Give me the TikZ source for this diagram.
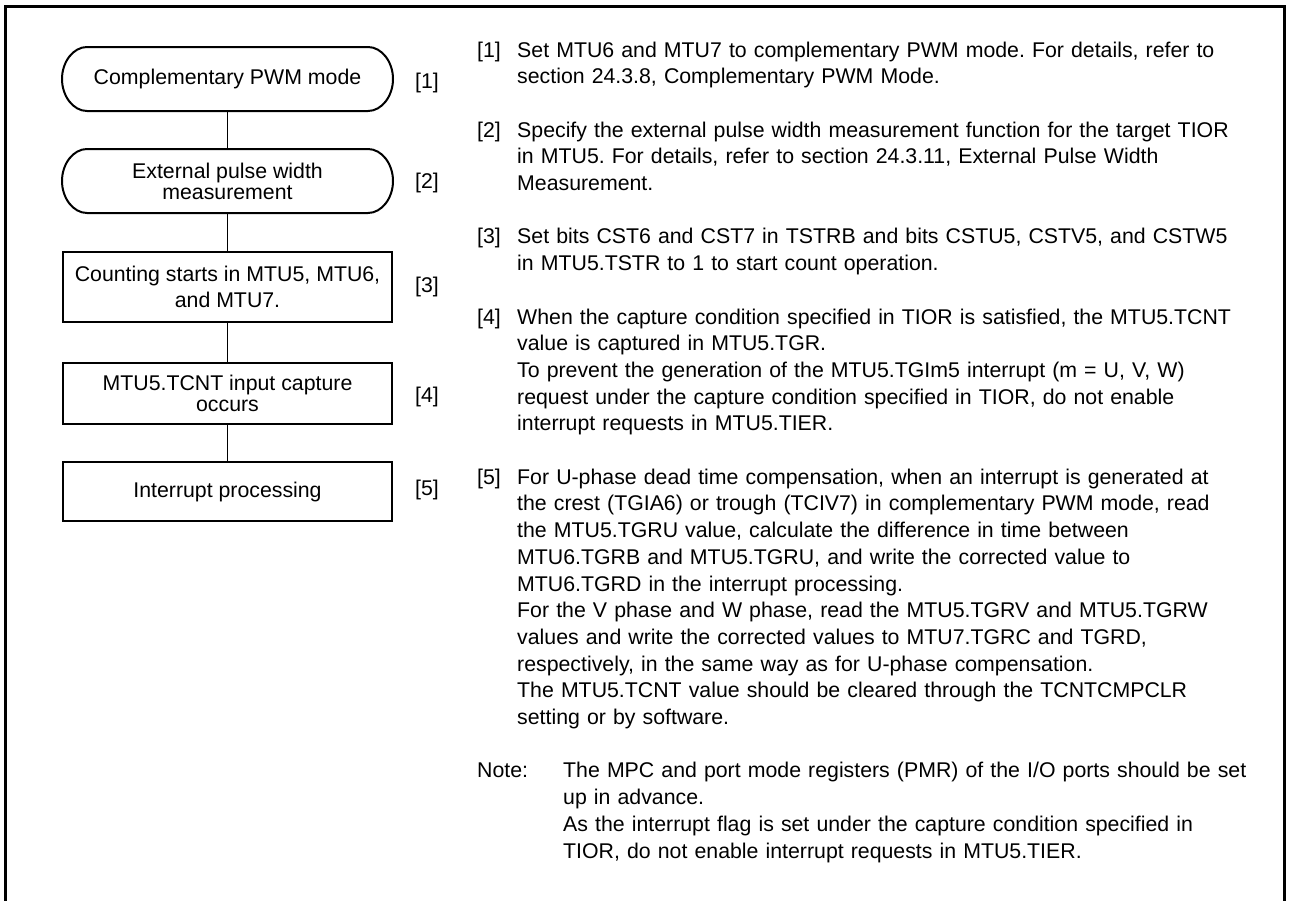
\documentclass[tikz,border=0pt]{standalone}
\usepackage{fontspec}
\setmainfont{Liberation Sans}
\usetikzlibrary{calc}
\frenchspacing
\newcommand\stadiumoutline[1]{%
  \draw[boxline] ($(#1.north west)+(25pt,0)$) -- ($(#1.north east)+(-25pt,0)$)
    .. controls ($(#1.north east)+(-11.2pt,0)$) and ($(#1.east)+(0,17.1pt)$) .. (#1.east)
    .. controls ($(#1.east)+(0,-17.1pt)$) and ($(#1.south east)+(-11.2pt,0)$) .. ($(#1.south east)+(-25pt,0)$)
    -- ($(#1.south west)+(25pt,0)$)
    .. controls ($(#1.south west)+(11.2pt,0)$) and ($(#1.west)+(0,-17.1pt)$) .. (#1.west)
    .. controls ($(#1.west)+(0,17.1pt)$) and ($(#1.north west)+(11.2pt,0)$) .. ($(#1.north west)+(25pt,0)$)
    -- cycle;}
\begin{document}
\begin{tikzpicture}[x=1pt,y=1pt,
  frame/.style={line width=3pt},
  boxline/.style={line width=2pt, line join=round},
  conn/.style={line width=1.3pt},
  fbox/.style={draw, line width=2pt, minimum width=329pt, inner sep=0pt, align=center, font=\fontsize{21.3}{21}\selectfont},
  fterm/.style={fbox, draw=none},
  flabel/.style={anchor=west, inner sep=0pt, font=\fontsize{21.3}{24}\selectfont},
  num/.style={anchor=base west, inner sep=0pt, font=\fontsize{21.3}{26.7}\selectfont},
  para/.style={anchor=base west, inner sep=0pt, text width=760pt, align=left, font=\frenchspacing\fontsize{21.3}{26.7}\selectfont}
]
\useasboundingbox (0,0) rectangle (1289,-900);
\fill[white] (0,0) rectangle (1289,-900);
% frame
\draw[frame] (5,-905) -- (5,-6) -- (1284,-6) -- (1284,-905);

% flowchart
\node[fterm, minimum height=62pt] (s1) at (227.5,-79) {Complementary PWM mode};
\node[fterm, minimum height=62pt] (s2) at (227.5,-181) {External pulse width\\measurement};
\node[fbox, minimum height=70pt, font=\fontsize{21.3}{26}\selectfont] (b3) at (227.5,-287) {Counting starts in MTU5, MTU6,\\and MTU7.};
\node[fbox, minimum height=61pt] (b4) at (227.5,-393.5) {MTU5.TCNT input capture\\occurs};
\node[fbox, minimum height=59pt] (b5) at (227.5,-491.5) {Interrupt processing};
\stadiumoutline{s1}
\stadiumoutline{s2}
\draw[conn] (s1.south) -- (s2.north);
\draw[conn] (s2.south) -- (b3.north);
\draw[conn] (b3.south) -- (b4.north);
\draw[conn] (b4.south) -- (b5.north);

\node[flabel] (l1) at (415,-83) {[1]};
\node[flabel] (l2) at (415,-183) {[2]};
\node[flabel] (l3) at (415,-287) {[3]};
\node[flabel] (l4) at (415,-397) {[4]};
\node[flabel] (l5) at (415,-490) {[5]};

% right-hand notes (baseline of line k = 57 + 26.7 k)
\node[num] (n1) at (477,-57) {[1]};
\node[para] (p1) at (517,-57) {Set MTU6 and MTU7 to complementary PWM mode. For details, refer to\\section 24.3.8, Complementary PWM Mode.};
\node[num] (n2) at (477,-137.1) {[2]};
\node[para] (p2) at (517,-137.1) {Specify the external pulse width measurement function for the target TIOR\\in MTU5. For details, refer to section 24.3.11, External Pulse Width\\Measurement.};
\node[num] (n3) at (477,-243.9) {[3]};
\node[para] (p3) at (517,-243.9) {Set bits CST6 and CST7 in TSTRB and bits CSTU5, CSTV5, and CSTW5\\in MTU5.TSTR to 1 to start count operation.};
\node[num] (n4) at (477,-324) {[4]};
\node[para] (p4) at (517,-324) {When the capture condition specified in TIOR is satisfied, the MTU5.TCNT\\value is captured in MTU5.TGR.\\To prevent the generation of the MTU5.TGIm5 interrupt (m = U, V, W)\\request under the capture condition specified in TIOR, do not enable\\interrupt requests in MTU5.TIER.};
\node[num] (n5) at (477,-484.2) {[5]};
\node[para] (p5) at (517,-484.2) {For U-phase dead time compensation, when an interrupt is generated at\\the crest (TGIA6) or trough (TCIV7) in complementary PWM mode, read\\the MTU5.TGRU value, calculate the difference in time between\\MTU6.TGRB and MTU5.TGRU, and write the corrected value to\\MTU6.TGRD in the interrupt processing.\\For the V phase and W phase, read the MTU5.TGRV and MTU5.TGRW\\values and write the corrected values to MTU7.TGRC and TGRD,\\respectively, in the same way as for U-phase compensation.\\The MTU5.TCNT value should be cleared through the TCNTCMPCLR\\setting or by software.};
\node[num] (nn) at (477,-777.9) {Note:};
\node[para, text width=700pt] (pn) at (563,-777.9) {The MPC and port mode registers (PMR) of the I/O ports should be set\\up in advance.\\As the interrupt flag is set under the capture condition specified in\\TIOR, do not enable interrupt requests in MTU5.TIER.};
\end{tikzpicture}
\end{document}
